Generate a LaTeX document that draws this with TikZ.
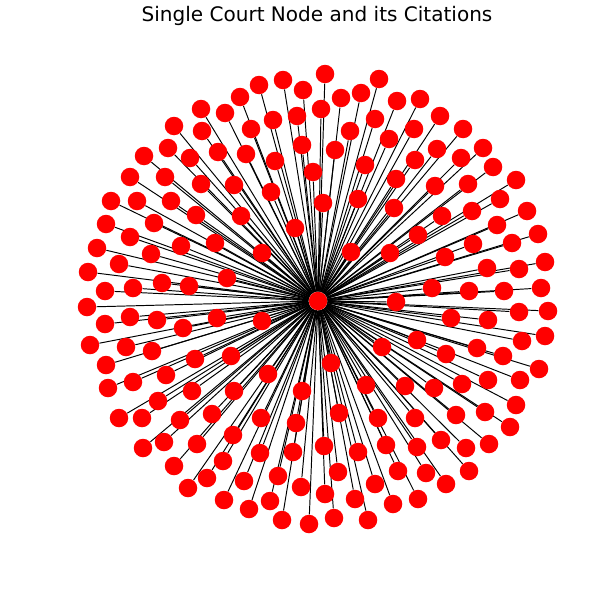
\documentclass[tikz,border=0pt]{standalone}
\usepackage{fontspec}
\setmainfont{DejaVu Sans}
\usetikzlibrary{backgrounds}

\begin{document}
\begin{tikzpicture}[x=0.02cm, y=-0.02cm,
    leaf/.style={circle, fill=red, inner sep=0pt, minimum size=0.37cm},
    hub/.style={leaf},
    edge/.style={draw=black, line width=0.55pt}]
    \useasboundingbox (0,0) rectangle (607,595);
    \node[font=\fontsize{11.4}{13}\selectfont] (title) at (317,16) {Single Court Node and its Citations};
    \node[hub] (court) at (318,301) {};
    % cited cases, placed as in the layout
    \foreach \x/\y [count=\i] in {325/74, 283/80, 379/79, 259/85, 303/90, 361/93, 341/98, 240/97,
        397/101, 420/99, 201/109, 225/113, 321/109, 273/120, 297/116, 375/119, 440/116,
        174/126, 202/131, 251/129, 350/131, 414/129, 463/129, 389/139, 437/149, 483/148,
        144/156, 168/148, 190/158, 218/152, 246/154, 302/145, 335/150, 415/160, 461/158,
        275/161, 365/165, 493/167, 130/177, 165/177, 201/184, 234/185, 313/172, 396/179,
        435/186, 468/184, 516/180, 271/192, 111/201, 137/201, 171/201, 196/215, 241/216,
        323/203, 358/199, 394/208, 442/216, 472/211, 500/199, 527/211, 106/224, 154/223,
        295/228, 418/235, 497/225, 130/237, 181/246, 215/243, 262/253, 351/252, 390/253,
        445/257, 473/244, 512/243, 538/234, 97/248, 151/254, 119/264, 487/268, 519/269,
        545/262, 88/272, 162/283, 189/286, 227/278, 105/291, 133/288, 432/288, 469/291,
        504/291, 541/288, 87/307, 396/302, 130/317, 157/320, 183/328, 217/318, 262/321,
        451/318, 488/320, 519/312, 548/311, 105/324, 90/345, 126/347, 152/351, 231/356,
        382/347, 417/340, 446/354, 477/348, 522/341, 545/336, 195/359, 331/363, 503/356,
        106/365, 166/375, 268/374, 539/369, 133/382, 234/391, 302/391, 366/385, 405/386,
        434/388, 462/384, 488/380, 520/380, 108/388, 192/391, 158/401, 516/405, 119/418,
        142/418, 180/420, 212/414, 261/418, 296/423, 339/413, 378/418, 415/418, 456/415,
        485/412, 233/435, 510/427, 143/448, 164/442, 197/444, 260/453, 293/452, 324/446,
        358/452, 386/445, 417/447, 441/440, 466/448, 489/444, 174/466, 223/461, 338/472,
        398/471, 426/473, 469/471, 188/488, 207/478, 244/481, 278/476, 301/487, 325/494,
        355/499, 375/484, 446/484, 224/500, 270/501, 393/504, 418/499, 249/509, 282/520,
        309/524, 334/518, 368/520}
        \node[leaf] (c\i) at (\x,\y) {};
    \begin{scope}[on background layer]
        \foreach \i in {1,...,182}
            \draw[edge] (court) -- (c\i);
    \end{scope}
\end{tikzpicture}
\end{document}
